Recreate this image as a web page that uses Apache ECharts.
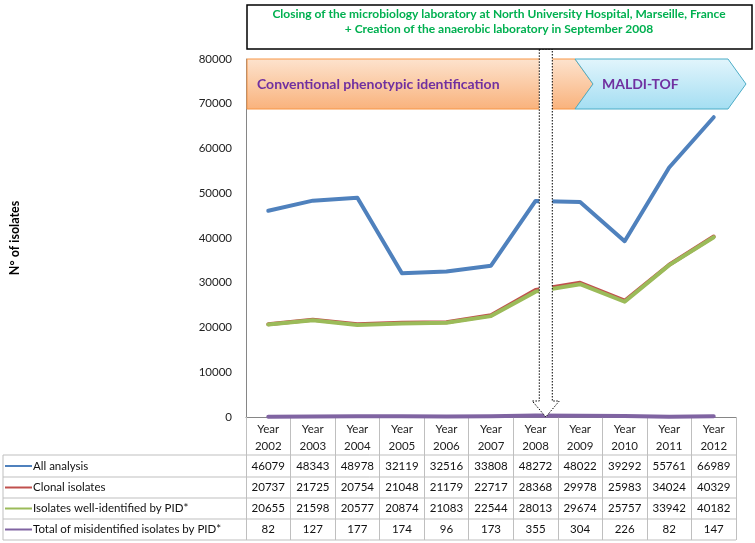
<!DOCTYPE html>
<html><head><meta charset="utf-8">
<script src="https://cdn.jsdelivr.net/npm/echarts@6/dist/echarts.min.js"></script>
<style>html,body{margin:0;padding:0;background:#fff}#c{width:755px;height:543px}</style>
</head><body><div id="c"></div>
<script>
const years = ['2002','2003','2004','2005','2006','2007','2008','2009','2010','2011','2012'];
const categories = years.map(y => 'Year\n' + y);
const allAnalysis = [46079,48343,48978,32119,32516,33808,48272,48022,39292,55761,66989];
const clonalIsolates = [20737,21725,20754,21048,21179,22717,28368,29978,25983,34024,40329];
const wellIdentified = [20655,21598,20577,20874,21083,22544,28013,29674,25757,33942,40182];
const misidentified = [82,127,177,174,96,173,355,304,226,82,147];
const seriesNames = ['All analysis','Clonal isolates','Isolates well-identified by PID*','Total of misidentified isolates by PID*'];
const seriesData = [allAnalysis, clonalIsolates, wellIdentified, misidentified];
const seriesColors = ['#4F81BD','#C0504D','#9BBB59','#8064A2'];
const yMin = 0, yMax = 80000, yInterval = 10000;
const boxLines = ['Closing of the microbiology laboratory at North University Hospital, Marseille, France','+ Creation of the anaerobic laboratory in September 2008'];
const phaseLabels = ['Conventional phenotypic identification','MALDI-TOF'];

const FONT = 'Lato, "Liberation Sans", sans-serif';
const chart = echarts.init(document.getElementById('c'), null, {renderer:'canvas'});
const option = {
  animation:false,
  grid:{left:235, right:19, top:59, bottom:126, containLabel:false},
  xAxis:{type:'category', data:categories, boundaryGap:true,
    axisLine:{lineStyle:{color:'#868686', width:1}},
    axisTick:{show:true, length:123, lineStyle:{color:'#BFBFBF', width:1}},
    axisLabel:{color:'#222', fontFamily:FONT, fontSize:11.5, lineHeight:17, margin:4, interval:0}},
  yAxis:{type:'value', min:yMin, max:yMax, interval:yInterval,
    name:'N° of isolates', nameLocation:'middle', nameRotate:90, nameGap:225,
    nameTextStyle:{fontFamily:FONT, fontWeight:'bold', fontSize:12.5, color:'#000'},
    splitLine:{show:false},
    axisLine:{show:true, lineStyle:{color:'#868686', width:1}},
    axisTick:{show:false},
    axisLabel:{color:'#222', fontFamily:FONT, fontSize:11.5, margin:14, formatter:v=>String(v)}},
  series: seriesNames.map((n,i)=>({name:n, type:'line', data:seriesData[i], symbol:'none',
    lineStyle:{color:seriesColors[i], width:4, cap:'round', join:'round'}, z:2+i}))
};
chart.setOption(option);

// build table + annotations
const xOf = i => chart.convertToPixel({xAxisIndex:0}, categories[i]);
const yTop = chart.convertToPixel({yAxisIndex:0}, yMax);
const y0 = chart.convertToPixel({yAxisIndex:0}, yMin);
const colW = xOf(1) - xOf(0);
const leftX = xOf(0) - colW/2, rightX = xOf(years.length-1) + colW/2;
const tableLeft = 3;
const rowEdges = [y0+38, y0+60, y0+81, y0+102, y0+123];
const g = [];
rowEdges.forEach(y=>g.push({type:'line', shape:{x1:tableLeft,y1:y,x2:rightX,y2:y}, style:{stroke:'#BFBFBF', lineWidth:1}, silent:true}));
g.push({type:'line', shape:{x1:tableLeft,y1:rowEdges[0],x2:tableLeft,y2:rowEdges[4]}, style:{stroke:'#BFBFBF', lineWidth:1}});
for(let r=0;r<4;r++){
  const cy = (rowEdges[r]+rowEdges[r+1])/2;
  g.push({type:'line', shape:{x1:5,y1:cy,x2:32,y2:cy}, style:{stroke:seriesColors[r], lineWidth:2}});
  g.push({type:'text', x:33, y:cy, style:{text:seriesNames[r], fill:'#111', font:'11.5px '+FONT, verticalAlign:'middle', align:'left'}});
  seriesData[r].forEach((v,i)=>{
    g.push({type:'text', x:xOf(i), y:cy, style:{text:String(v), fill:'#111', font:'11.5px '+FONT, verticalAlign:'middle', align:'center'}});
  });
}
// phase chevrons
const cTop = yTop, cBot = yTop+50, cMid = (cTop+cBot)/2;
const split = 575, notch = 18, tipEnd = 728;
g.push({type:'polygon', shape:{points:[[leftX+1,cTop],[split,cTop],[split+notch,cMid],[split,cBot],[leftX+1,cBot]]},
  style:{fill:new echarts.graphic.LinearGradient(0,0,0,1,[{offset:0,color:'#FDE3CE'},{offset:1,color:'#F9B27C'}]), stroke:'#F79646', lineWidth:1}, z:10});
g.push({type:'polygon', shape:{points:[[split,cTop],[tipEnd,cTop],[tipEnd+notch,cMid],[tipEnd,cBot],[split,cBot],[split+notch,cMid]]},
  style:{fill:new echarts.graphic.LinearGradient(0,0,0,1,[{offset:0,color:'#E2F5FC'},{offset:1,color:'#A4DEF2'}]), stroke:'#4BACC6', lineWidth:1}, z:10});
g.push({type:'text', x:leftX+11, y:cMid, style:{text:phaseLabels[0], fill:'#7030A0', font:'bold 14px '+FONT, verticalAlign:'middle'}, z:11});
g.push({type:'text', x:split+27, y:cMid, style:{text:phaseLabels[1], fill:'#7030A0', font:'bold 14px '+FONT, verticalAlign:'middle'}, z:11});
// arrow pointing to Sept 2008
const ax = xOf(6) + colW*0.23;
const boxTop = 5, boxBot = 49;
g.push({type:'polygon', shape:{points:[[ax-6.5,boxBot],[ax+6.5,boxBot],[ax+6.5,y0-16],[ax+13.5,y0-16],[ax,y0],[ax-13.5,y0-16],[ax-6.5,y0-16]]},
  style:{fill:'#fff', stroke:'#000', lineWidth:1, lineDash:[1.5,1.5]}, z:20});
// top box
g.push({type:'rect', shape:{x:leftX+1, y:boxTop, width:752-leftX-1, height:boxBot-boxTop}, style:{fill:'#fff', stroke:'#000', lineWidth:1.5}, z:21});
g.push({type:'text', x:(leftX+752)/2, y:14, style:{text:boxLines[0], fill:'#00B050', font:'bold 12px '+FONT, align:'center', verticalAlign:'middle'}, z:22});
g.push({type:'text', x:(leftX+752)/2, y:29, style:{text:boxLines[1], fill:'#00B050', font:'bold 12px '+FONT, align:'center', verticalAlign:'middle'}, z:22});
chart.setOption({graphic:g});
</script></body></html>
